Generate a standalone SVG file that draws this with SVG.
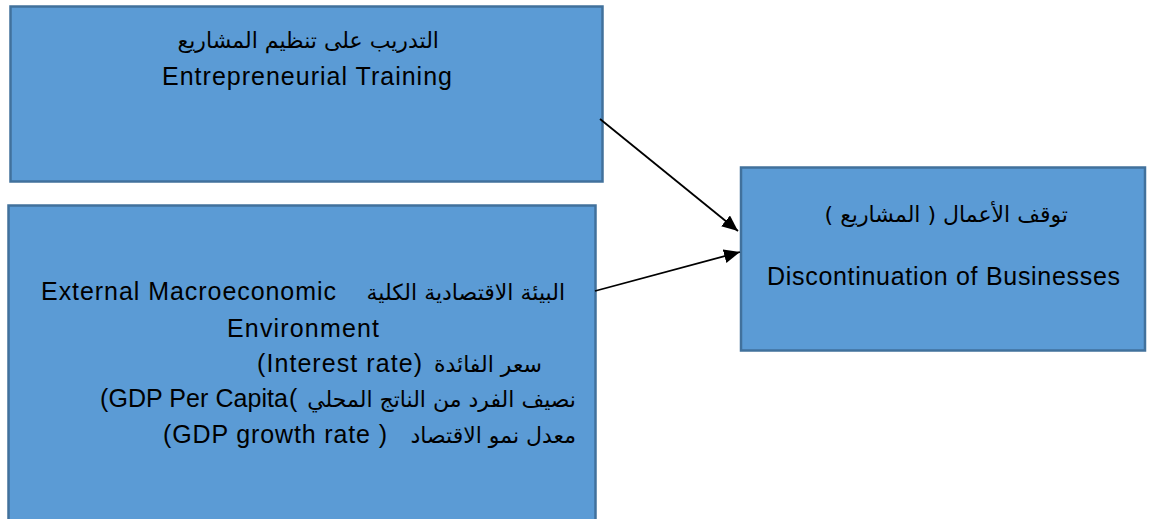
<svg xmlns="http://www.w3.org/2000/svg" width="1152" height="519" viewBox="0 0 1152 519">
<style>
.box{fill:#5b9bd5;stroke:#41719c;stroke-width:2.5}
.en{font-family:"Liberation Sans","DejaVu Sans",sans-serif;font-size:25px;fill:#000}
.ar{font-family:"DejaVu Sans",sans-serif;font-size:22px;fill:#000}
.conn{stroke:#000;stroke-width:1.8;fill:none}
</style>
<defs>
<marker id="arr" viewBox="0 0 16 14" refX="16" refY="7" markerWidth="16" markerHeight="14" markerUnits="userSpaceOnUse" orient="auto">
<path d="M0,0 L16,7 L0,14 z" fill="#000"/>
</marker>
</defs>
<rect width="1152" height="519" fill="#fff"/>
<g id="node-training">
<rect class="box" x="10.5" y="6.5" width="592" height="175"/>
<text class="ar" x="439" y="48" text-anchor="end">التدريب على تنظيم المشاريع</text>
<text class="en" x="162" y="85" textLength="290" lengthAdjust="spacing">Entrepreneurial Training</text>
</g>
<g id="node-macro">
<rect class="box" x="8.5" y="205.5" width="587" height="320"/>
<text class="en" x="41" y="300" textLength="295" lengthAdjust="spacing">External Macroeconomic</text>
<text class="ar" x="565" y="300" text-anchor="end">البيئة الاقتصادية الكلية</text>
<text class="en" x="227" y="337" textLength="152" lengthAdjust="spacing">Environment</text>
<text class="en" x="257" y="372" textLength="165" lengthAdjust="spacing">(Interest rate)</text>
<text class="ar" x="542" y="372" text-anchor="end">سعر الفائدة</text>
<text class="en" x="100" y="407" textLength="188" lengthAdjust="spacing">(GDP Per Capita</text>
<text class="en" x="289" y="407">(</text>
<text class="ar" x="576" y="407" text-anchor="end">نصيف الفرد من الناتج المحلي</text>
<text class="en" x="163" y="443" textLength="224" lengthAdjust="spacing">(GDP growth rate )</text>
<text class="ar" x="576" y="443" text-anchor="end">معدل نمو الاقتصاد</text>
</g>
<g id="node-discontinuation">
<rect class="box" x="741" y="167.5" width="404" height="183"/>
<text class="ar" x="1068" y="222" style="direction:rtl;unicode-bidi:embed" text-anchor="start">توقف  الأعمال ( المشاريع )</text>
<text class="en" x="767" y="285" textLength="353" lengthAdjust="spacing">Discontinuation of Businesses</text>
</g>
<g id="connectors">
<line class="conn" x1="600" y1="119" x2="738" y2="231" marker-end="url(#arr)"/>
<line class="conn" x1="595" y1="291" x2="740" y2="252" marker-end="url(#arr)"/>
</g>
</svg>
